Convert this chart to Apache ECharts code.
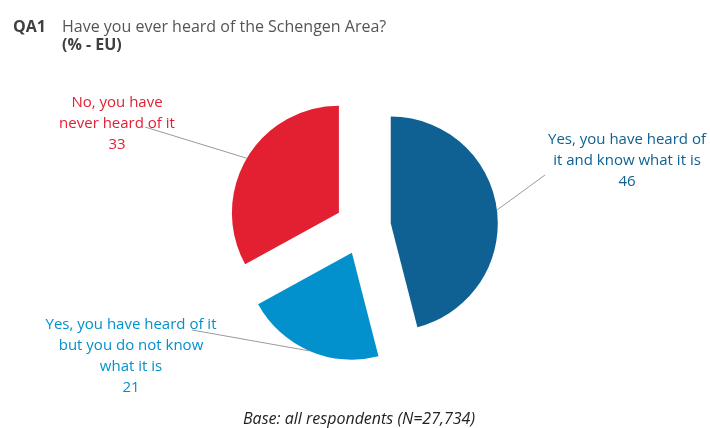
<!DOCTYPE html>
<html>
<head>
<meta charset="utf-8">
<script src="https://cdn.jsdelivr.net/npm/echarts@6/dist/echarts.min.js"></script>
<style>
  html, body { margin: 0; padding: 0; background: #fff; }
  #chart { width: 710px; height: 428px; }
</style>
</head>
<body>
<div id="chart"></div>
<script>
// answers, clockwise from 12 o'clock
var answers = [
  'Yes, you have heard of\nit and know what it is',
  'Yes, you have heard of it\nbut you do not know\nwhat it is',
  'No, you have\nnever heard of it'
]
var shares = [46, 21, 33]
var colors = ['#0e6192', '#0291cc', '#e32032']

// label block centres and where the leader line stops (relative to that centre)
var labelSpots = [
  { x: 627, y: 161, lx: -82, ly: 14 },
  { x: 131, y: 356, lx: 61, ly: -26 },
  { x: 117, y: 124, lx: 28, ly: 3 }
]

var pieCenter = [363, 227]
var pieRadius = 107
var explode = 28

var chart = echarts.init(document.getElementById('chart'))
chart.setOption({
  animation: false,
  title: [
    {
      text: 'QA1',
      left: 13, top: 19, padding: 0,
      textStyle: { fontSize: 16, fontWeight: 'bold', color: '#404040', fontFamily: 'Open Sans' }
    },
    {
      text: 'Have you ever heard of the Schengen Area?',
      left: 62, top: 19, padding: 0,
      textStyle: { fontSize: 16, fontWeight: 'normal', color: '#555', fontFamily: 'Open Sans' }
    },
    {
      text: '(% - EU)',
      left: 62, top: 37, padding: 0,
      textStyle: { fontSize: 16, fontWeight: 'bold', color: '#404040', fontFamily: 'Open Sans' }
    },
    {
      text: 'Base: all respondents (N=27,734)',
      left: 243, top: 411, padding: 0,
      textStyle: { fontSize: 16, fontWeight: 'normal', fontStyle: 'italic', color: '#222', fontFamily: 'Open Sans' }
    }
  ],
  series: [
    {
      // the exploded slices
      type: 'pie',
      center: pieCenter,
      radius: [0, pieRadius],
      startAngle: 90,
      clockwise: true,
      selectedMode: 'multiple',
      selectedOffset: explode,
      silent: true,
      emphasis: { disabled: true },
      label: { show: false },
      labelLine: { show: false },
      data: answers.map(function (name, i) {
        return { name: name, value: shares[i], selected: true, itemStyle: { color: colors[i] } }
      })
    },
    {
      // invisible twin, reaching the outer edge of the exploded slices, carries the labels
      type: 'pie',
      center: pieCenter,
      radius: [0, pieRadius + explode],
      startAngle: 90,
      clockwise: true,
      silent: true,
      z: 3,
      emphasis: { disabled: true },
      avoidLabelOverlap: false,
      itemStyle: { color: 'rgba(0,0,0,0)' },
      label: {
        show: true,
        formatter: '{b}\n{c}',
        fontSize: 15,
        lineHeight: 21,
        align: 'center',
        fontFamily: 'Open Sans'
      },
      labelLine: {
        show: true,
        lineStyle: { color: '#9a9a9a', width: 1 }
      },
      labelLayout: function (params) {
        var s = labelSpots[params.dataIndex]
        var pts = params.labelLinePoints
        var out = { x: s.x, y: s.y, align: 'center', verticalAlign: 'middle' }
        if (pts && pts.length) {
          var p0 = pts[0]
          var end = [s.x + s.lx, s.y + s.ly]
          out.labelLinePoints = [p0, [(p0[0] + end[0]) / 2, (p0[1] + end[1]) / 2], end]
        }
        return out
      },
      data: answers.map(function (name, i) {
        return { name: name, value: shares[i], label: { color: colors[i] } }
      })
    }
  ]
})
</script>
</body>
</html>
